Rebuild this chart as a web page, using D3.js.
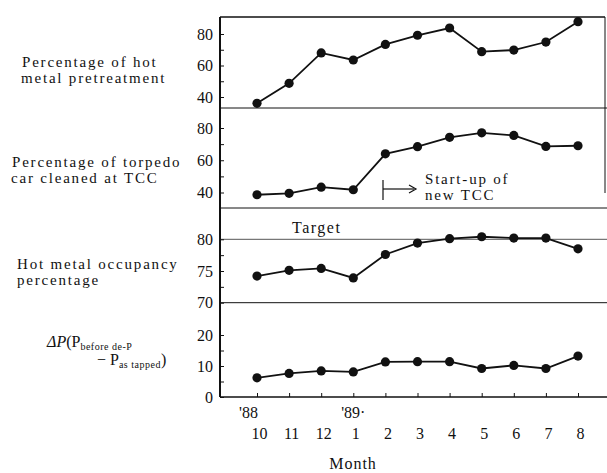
<!DOCTYPE html>
<html>
<head>
<meta charset="utf-8">
<script src="https://cdn.jsdelivr.net/npm/d3@7"></script>
<style>
  body { margin: 0; background: #fff; }
  svg { display: block; }
  svg text { font-family: "Liberation Serif", "DejaVu Serif", serif; }
</style>
</head>
<body>
<div id="chart"></div>
<script>
// months on x axis, '88-10 to '89-8
var months = ["10", "11", "12", "1", "2", "3", "4", "5", "6", "7", "8"];
var yearLabels = [{month: "10", text: "'88"}, {month: "1", text: "'89·"}];

// values
var pretreatment = [36, 48.7, 68, 63.5, 73.4, 79.2, 83.8, 68.8, 69.8, 74.9, 87.8];
var torpedoCleaned = [38.6, 39.5, 43.3, 41.7, 64, 68.4, 74.2, 77, 75.4, 68.6, 69];
var occupancy = [74.2, 75.1, 75.4, 73.9, 77.6, 79.4, 80.1, 80.4, 80.2, 80.2, 78.5];
var deltaP = [6.2, 7.6, 8.4, 8.1, 11.3, 11.4, 11.4, 9.2, 10.2, 9.2, 13.2];

var ticks1 = [40, 50, 60, 70, 80], labels1 = [40, 60, 80];
var ticks2 = [40, 50, 60, 70, 80], labels2 = [40, 60, 80];
var ticks3 = [70, 72.5, 75, 77.5, 80], labels3 = [70, 75, 80];
var ticks4 = [0, 5, 10, 15, 20], labels4 = [0, 10, 20];
var targetValue = 80;

var W = 607, H = 473;
var axisX = 220, rightX = 607;
var plotTop = 17, plotBottom = 397;

var svg = d3.select("#chart").append("svg")
  .attr("width", W).attr("height", H);

var x = d3.scalePoint()
  .domain(months)
  .range([257, 578]);

// each panel: its own linear scale
var panels = [
  {values: pretreatment, ticks: ticks1, labels: labels1, y: d3.scaleLinear().domain([40, 80]).range([97, 34]),
   title: ["Percentage of hot", "metal pretreatment"], tx: [22, 21], ty: [67, 83]},
  {values: torpedoCleaned, ticks: ticks2, labels: labels2, y: d3.scaleLinear().domain([40, 80]).range([192.5, 128]),
   title: ["Percentage of torpedo", "car cleaned at TCC"], tx: [12, 11], ty: [167, 183]},
  {values: occupancy, ticks: ticks3, labels: labels3, y: d3.scaleLinear().domain([70, 80]).range([302.7, 239.3]),
   title: ["Hot metal occupancy", "percentage"], tx: [17, 17], ty: [269, 285]},
  {values: deltaP, ticks: ticks4, labels: labels4, y: d3.scaleLinear().domain([0, 20]).range([397, 335])}
];

var ink = "#111";

// frame: top border, right border (top two panels), dividers
svg.append("line").attr("x1", axisX).attr("x2", 605).attr("y1", plotTop).attr("y2", plotTop)
  .attr("stroke", ink).attr("stroke-width", 1.5);
svg.append("line").attr("x1", 605).attr("x2", 605).attr("y1", plotTop).attr("y2", 193)
  .attr("stroke", ink).attr("stroke-width", 1);
[108, 208].forEach(function (yy) {
  svg.append("line").attr("x1", axisX).attr("x2", rightX).attr("y1", yy).attr("y2", yy)
    .attr("stroke", ink).attr("stroke-width", 1);
});
svg.append("line").attr("x1", axisX).attr("x2", rightX)
  .attr("y1", panels[2].y(70)).attr("y2", panels[2].y(70))
  .attr("stroke", ink).attr("stroke-width", 1);

// target line
svg.append("line").attr("x1", axisX).attr("x2", rightX)
  .attr("y1", panels[2].y(targetValue)).attr("y2", panels[2].y(targetValue))
  .attr("stroke", "#555").attr("stroke-width", 1);
svg.append("text").attr("x", 292).attr("y", panels[2].y(targetValue) - 6)
  .attr("font-size", 16).attr("letter-spacing", 1.5).attr("fill", ink).text("Target");

// left axis line
svg.append("line").attr("x1", axisX).attr("x2", axisX).attr("y1", plotTop).attr("y2", plotBottom)
  .attr("stroke", ink).attr("stroke-width", 2);

panels.forEach(function (p) {
  var ax = svg.append("g")
    .attr("transform", `translate(${axisX},0)`)
    .call(d3.axisLeft(p.y).tickValues(p.ticks).tickSize(-4).tickPadding(7)
      .tickFormat(d => p.labels.indexOf(d) >= 0 ? d : ""))
    .call(g => g.select(".domain").remove())
    .attr("font-family", null);
  ax.selectAll("text").attr("font-size", 16).attr("fill", ink);
  ax.selectAll("line").attr("stroke", ink);

  var line = d3.line()
    .x((d, i) => x(months[i]))
    .y(d => p.y(d));
  svg.append("path").datum(p.values)
    .attr("d", line).attr("fill", "none").attr("stroke", ink).attr("stroke-width", 1.8);
  svg.append("g").selectAll("circle")
    .data(p.values)
    .join("circle")
    .attr("cx", (d, i) => x(months[i]))
    .attr("cy", d => p.y(d))
    .attr("r", 4.6)
    .attr("fill", ink);

  if (p.title) {
    p.title.forEach(function (t, i) {
      svg.append("text").attr("x", p.tx[i]).attr("y", p.ty[i])
        .attr("font-size", 15).attr("letter-spacing", 1.8).attr("fill", ink).text(t);
    });
  }
});

// delta P label with subscripts
var dp1 = svg.append("text").attr("x", 47).attr("y", 347).attr("font-size", 16).attr("fill", ink);
dp1.append("tspan").attr("font-style", "italic").text("ΔP");
dp1.append("tspan").text("(P");
dp1.append("tspan").attr("font-size", 10).attr("dy", 3).attr("letter-spacing", 0.5).text("before de-P");
var dp2 = svg.append("text").attr("x", 97).attr("y", 365).attr("font-size", 16).attr("fill", ink);
dp2.append("tspan").text("− P");
dp2.append("tspan").attr("font-size", 10).attr("dy", 3).attr("letter-spacing", 0.5).text("as tapped");
dp2.append("tspan").attr("dy", -3).text(")");

// start-up annotation
svg.append("line").attr("x1", 383).attr("x2", 383).attr("y1", 180).attr("y2", 200)
  .attr("stroke", ink).attr("stroke-width", 1.2);
svg.append("line").attr("x1", 383).attr("x2", 414).attr("y1", 189).attr("y2", 189)
  .attr("stroke", ink).attr("stroke-width", 1.2);
svg.append("path").attr("d", "M409,185 L416,189 L409,193")
  .attr("fill", "none").attr("stroke", ink).attr("stroke-width", 1.2);
svg.append("text").attr("x", 425).attr("y", 184).attr("font-size", 15).attr("letter-spacing", 1.8)
  .attr("fill", ink).text("Start-up of");
svg.append("text").attr("x", 425).attr("y", 200).attr("font-size", 15).attr("letter-spacing", 1.8)
  .attr("fill", ink).text("new TCC");

// bottom axis
svg.append("line").attr("x1", axisX).attr("x2", rightX).attr("y1", plotBottom).attr("y2", plotBottom)
  .attr("stroke", ink).attr("stroke-width", 1.5);
var xa = svg.append("g")
  .attr("transform", `translate(0,${plotBottom})`)
  .call(d3.axisBottom(x).tickSize(-4).tickPadding(31))
  .call(g => g.select(".domain").remove())
  .attr("font-family", null);
xa.selectAll("text").attr("font-size", 16).attr("fill", ink).attr("dx", 2);
xa.selectAll("line").attr("stroke", ink);

svg.append("g").selectAll("text")
  .data(yearLabels)
  .join("text")
  .attr("x", d => d.month === "10" ? x(d.month) + 1 : x(d.month))
  .attr("y", 418)
  .attr("text-anchor", d => d.month === "10" ? "end" : "middle")
  .attr("font-size", 16).attr("fill", ink)
  .text(d => d.text);

svg.append("text").attr("x", 353).attr("y", 469).attr("text-anchor", "middle")
  .attr("font-size", 16).attr("letter-spacing", 1).attr("fill", ink).text("Month");
</script>
</body>
</html>
